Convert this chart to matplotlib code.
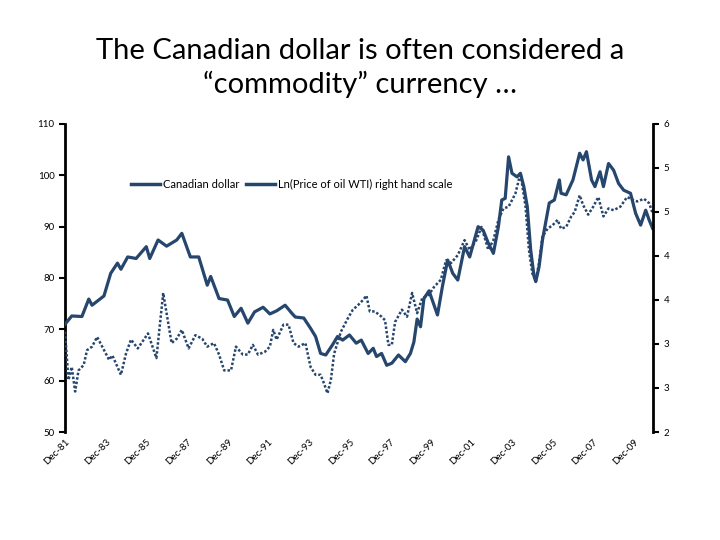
import pandas as pd
import matplotlib.pyplot as plt
from matplotlib.lines import Line2D

# Canadian dollar (left scale)
cad_dates = ['1981-12', '1982-04', '1982-10', '1983-02', '1983-04', '1983-11', '1984-03', '1984-07',
             '1984-09', '1985-01', '1985-06', '1985-12', '1986-02', '1986-07', '1986-12', '1987-06',
             '1987-09', '1988-02', '1988-07', '1988-12', '1989-02', '1989-07', '1989-12', '1990-04',
             '1990-08', '1990-12', '1991-04', '1991-09', '1992-01', '1992-05', '1992-10', '1993-02',
             '1993-04', '1993-09', '1994-01', '1994-04', '1994-07', '1994-10', '1995-02', '1995-05',
             '1995-08', '1995-12', '1996-04', '1996-07', '1996-11', '1997-02', '1997-04', '1997-07',
             '1997-10', '1998-01', '1998-05', '1998-09', '1998-12', '1999-02', '1999-04', '1999-06',
             '1999-08', '1999-11', '2000-04', '2000-07', '2000-10', '2001-01', '2001-04', '2001-08',
             '2001-11', '2002-04', '2002-07', '2002-10', '2003-01', '2003-04', '2003-06', '2003-08',
             '2003-10', '2003-12', '2004-03', '2004-05', '2004-07', '2004-09', '2004-11', '2005-01',
             '2005-02', '2005-04', '2005-06', '2005-10', '2006-01', '2006-04', '2006-05', '2006-08',
             '2006-12', '2007-04', '2007-06', '2007-08', '2007-11', '2008-01', '2008-04', '2008-06',
             '2008-09', '2008-12', '2009-03', '2009-06', '2009-10', '2010-01', '2010-04', '2010-07',
             '2010-09', '2010-11']
cad_values = [71.0, 72.6, 72.5, 75.9, 74.7, 76.5, 80.9, 82.9,
              81.7, 84.1, 83.8, 86.1, 83.8, 87.4, 86.2, 87.4,
              88.7, 84.1, 84.1, 78.6, 80.3, 76.0, 75.7, 72.5,
              74.1, 71.2, 73.4, 74.3, 73.0, 73.6, 74.7, 73.1,
              72.4, 72.2, 70.2, 68.6, 65.3, 65.0, 67.0, 68.6,
              67.9, 68.9, 67.3, 67.9, 65.3, 66.3, 64.7, 65.3,
              63.0, 63.4, 65.0, 63.7, 65.3, 67.5, 72.0, 70.5,
              76.0, 77.5, 72.8, 78.5, 83.5, 80.9, 79.6, 86.1,
              84.1, 90.0, 89.3, 86.8, 84.8, 90.0, 95.2, 95.5,
              103.6, 100.4, 99.7, 100.4, 97.8, 93.9, 85.5, 80.3,
              79.3, 82.2, 87.4, 94.6, 95.2, 99.1, 96.5, 96.2,
              99.1, 104.3, 103.0, 104.6, 99.1, 97.8, 100.7, 97.8,
              102.3, 101.0, 98.4, 97.1, 96.5, 92.6, 90.3, 93.2,
              91.3, 89.7]

# Ln(price of oil WTI) (right scale)
oil_dates = ['1981-12', '1982-02', '1982-04', '1982-06', '1982-08', '1982-11', '1983-01', '1983-04',
             '1983-07', '1983-10', '1984-02', '1984-04', '1984-09', '1984-12', '1985-03', '1985-07',
             '1986-01', '1986-06', '1986-10', '1986-12', '1987-03', '1987-06', '1987-09', '1988-01',
             '1988-05', '1988-09', '1988-12', '1989-04', '1989-07', '1989-10', '1990-02', '1990-05',
             '1990-09', '1990-12', '1991-03', '1991-06', '1991-10', '1992-01', '1992-03', '1992-05',
             '1992-09', '1992-12', '1993-03', '1993-06', '1993-10', '1994-01', '1994-04', '1994-07',
             '1994-09', '1994-11', '1995-01', '1995-03', '1995-07', '1995-11', '1996-02', '1996-05',
             '1996-08', '1996-10', '1996-12', '1997-03', '1997-07', '1997-09', '1997-11', '1998-01',
             '1998-03', '1998-07', '1998-10', '1999-01', '1999-04', '1999-07', '1999-11', '2000-02',
             '2000-06', '2000-09', '2000-12', '2001-04', '2001-08', '2001-11', '2002-03', '2002-06',
             '2002-10', '2003-01', '2003-04', '2003-07', '2003-10', '2004-02', '2004-05', '2004-08',
             '2004-10', '2004-12', '2005-02', '2005-04', '2005-06', '2005-09', '2005-12', '2006-03',
             '2006-05', '2006-08', '2006-11', '2007-01', '2007-04', '2007-06', '2007-09', '2007-12',
             '2008-03', '2008-06', '2008-09', '2008-12', '2009-04', '2009-08', '2009-11', '2010-02',
             '2010-06', '2010-09', '2010-11']
oil_values = [3.14, 2.59, 2.74, 2.46, 2.70, 2.76, 2.93, 2.97,
              3.08, 2.97, 2.82, 2.87, 2.65, 2.89, 3.05, 2.95,
              3.12, 2.84, 3.58, 3.35, 3.01, 3.06, 3.16, 2.95,
              3.10, 3.06, 2.97, 3.01, 2.88, 2.70, 2.70, 2.97,
              2.88, 2.88, 2.99, 2.88, 2.91, 2.97, 3.16, 3.05,
              3.22, 3.22, 3.01, 2.97, 3.01, 2.74, 2.65, 2.65,
              2.55, 2.44, 2.59, 2.89, 3.14, 3.29, 3.39, 3.44,
              3.50, 3.55, 3.37, 3.37, 3.31, 3.27, 2.99, 2.99,
              3.25, 3.39, 3.31, 3.58, 3.35, 3.52, 3.56, 3.65,
              3.73, 3.95, 3.92, 4.01, 4.18, 4.07, 4.18, 4.33,
              4.07, 4.18, 4.41, 4.54, 4.56, 4.71, 4.94, 4.56,
              4.07, 3.80, 3.73, 3.92, 4.22, 4.31, 4.35, 4.41,
              4.31, 4.33, 4.45, 4.50, 4.69, 4.58, 4.47, 4.56,
              4.67, 4.45, 4.54, 4.52, 4.56, 4.67, 4.64, 4.62,
              4.65, 4.60, 4.49]

tick_years = list(range(1981, 2010, 2))
tick_labels = ['Dec-%02d' % (y % 100) for y in tick_years]
left_ticks = [50, 60, 70, 80, 90, 100, 110]
right_ticks = [2.0, 2.5, 3.0, 3.5, 4.0, 4.5, 5.0, 5.5]
right_labels = ['2', '3', '3', '4', '4', '5', '5', '6']

navy = '#26466D'
plt.rcParams['font.family'] = ['Lato', 'DejaVu Sans']

fig = plt.figure(figsize=(7.2, 5.4), dpi=100)
ax = fig.add_axes([0.0903, 0.2, 0.8167, 0.5704])
ax2 = ax.twinx()

ax.plot(pd.to_datetime(cad_dates), cad_values, color=navy, linewidth=2.3, zorder=3)
ax2.plot(pd.to_datetime(oil_dates), oil_values, color=navy, linewidth=1.8, linestyle=(0, (1, 0.8)))

ax.set_xlim(pd.Timestamp('1981-12-01'), pd.Timestamp('2010-11-10'))
ax.set_ylim(50, 110)
ax2.set_ylim(2, 5.5)

ax.set_xticks(pd.to_datetime(['%d-12-01' % y for y in tick_years]))
ax.set_xticklabels(tick_labels, rotation=45, ha='right', rotation_mode='anchor', fontsize=7)
ax.tick_params(axis='x', length=0, pad=4)
ax.set_yticks(left_ticks)
ax.tick_params(axis='y', labelsize=7, width=1.5, length=4, direction='out')
ax2.set_yticks(right_ticks)
ax2.set_yticklabels(right_labels)
ax2.tick_params(axis='y', labelsize=7, width=1.5, length=4, direction='out')

for a in (ax, ax2):
    a.spines['top'].set_visible(False)
    a.spines['bottom'].set_visible(False)
    a.spines['left'].set_linewidth(2)
    a.spines['right'].set_linewidth(2)
ax.spines['right'].set_visible(False)
ax2.spines['left'].set_visible(False)

handles = [Line2D([], [], color=navy, linewidth=2.5), Line2D([], [], color=navy, linewidth=2.5)]
ax.legend(handles, ['Canadian dollar', 'Ln(Price of oil WTI) right hand scale'], ncol=2,
          frameon=False, fontsize=8, loc='center left', bbox_to_anchor=(0.095, 0.805),
          handlelength=2.6, handletextpad=0.3, columnspacing=0.6)

fig.text(0.5, 0.874, 'The Canadian dollar is often considered a\n\u201ccommodity\u201d currency \u2026',
         ha='center', va='center', fontsize=21, linespacing=1.3)

fig.savefig('out.png', dpi=100)
